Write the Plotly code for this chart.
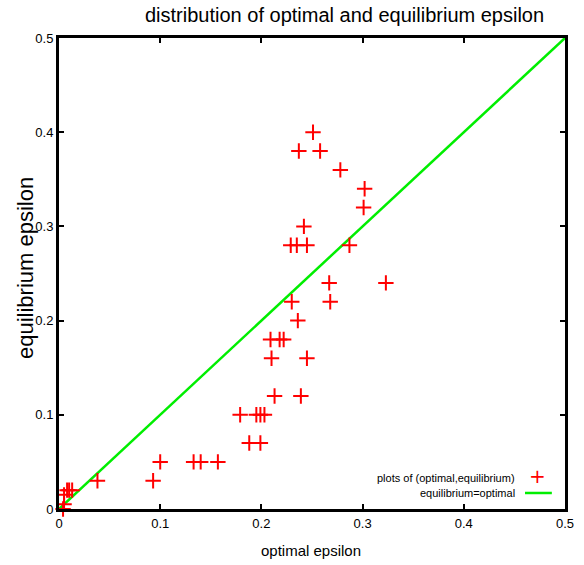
import plotly.graph_objects as go

optimal = [0.004, 0.005, 0.005, 0.008, 0.010, 0.013, 0.038, 0.093, 0.100,
           0.133, 0.140, 0.157, 0.179, 0.195, 0.199, 0.203, 0.188, 0.199,
           0.213, 0.239, 0.210, 0.245, 0.209, 0.218, 0.222, 0.236, 0.230,
           0.268, 0.267, 0.323, 0.229, 0.235, 0.245, 0.287, 0.242, 0.301,
           0.302, 0.278, 0.237, 0.258, 0.251]
equilibrium = [0.000, 0.005, 0.015, 0.020, 0.020, 0.020, 0.030, 0.030, 0.050,
               0.050, 0.050, 0.050, 0.100, 0.100, 0.100, 0.100, 0.070, 0.070,
               0.120, 0.120, 0.160, 0.160, 0.180, 0.180, 0.180, 0.200, 0.220,
               0.220, 0.240, 0.240, 0.280, 0.280, 0.280, 0.280, 0.300, 0.320,
               0.340, 0.360, 0.380, 0.380, 0.400]
line_x = [0.0, 0.5]
line_y = [0.0, 0.5]
tick_vals = [0, 0.1, 0.2, 0.3, 0.4, 0.5]
tick_text = ["0", "0.1", "0.2", "0.3", "0.4", "0.5"]

FONT = "Liberation Sans Narrow, Arial Narrow, Liberation Sans, Arial, sans-serif"

fig = go.Figure()
fig.add_trace(go.Scatter(
    x=line_x, y=line_y, mode="lines", name="equilibrium=optimal",
    line=dict(color="#00ee00", width=2.5), showlegend=False))
fig.add_trace(go.Scatter(
    x=optimal, y=equilibrium, mode="markers",
    name="plots of (optimal,equilibrium)",
    marker=dict(symbol="cross-thin", size=11,
                line=dict(color="#ff0000", width=2), color="#ff0000"),
    showlegend=False, cliponaxis=False))

axis_common = dict(
    range=[0, 0.5], tickvals=tick_vals, ticktext=tick_text, automargin=False,
    showgrid=False, zeroline=False, showline=True, linecolor="black",
    linewidth=3, mirror="ticks", ticks="inside", ticklen=5, tickwidth=2,
    tickcolor="black", tickfont=dict(family=FONT, size=13, color="black"))

fig.update_layout(
    width=584, height=565,
    margin=dict(l=59, r=19, t=38, b=56),
    paper_bgcolor="white", plot_bgcolor="white",
    font=dict(family=FONT, color="black"),
    xaxis=dict(**axis_common),
    yaxis=dict(**axis_common),
    annotations=[
        dict(text="distribution of optimal and equilibrium epsilon",
             xref="paper", yref="paper", x=(344 - 59) / 506, y=1.0, yshift=23,
             showarrow=False, xanchor="center", yanchor="middle",
             font=dict(family=FONT, size=20, color="black")),
        dict(text="optimal epsilon",
             xref="paper", yref="paper", x=(311 - 59) / 506, y=0.0, yshift=-41,
             showarrow=False, xanchor="center", yanchor="middle",
             font=dict(family=FONT, size=15, color="black")),
        dict(text="equilibrium epsilon", textangle=-90,
             xref="paper", yref="paper", x=0.0, xshift=-34, y=(509 - 268) / 471,
             showarrow=False, xanchor="center", yanchor="middle",
             font=dict(family=FONT, size=22, color="black")),
        dict(text="plots of (optimal,equilibrium)", xref="paper", yref="paper",
             x=0.905, y=0.066, xanchor="right", yanchor="middle",
             showarrow=False, font=dict(family=FONT, size=11, color="black")),
        dict(text="equilibrium=optimal", xref="paper", yref="paper",
             x=0.905, y=0.034, xanchor="right", yanchor="middle",
             showarrow=False, font=dict(family=FONT, size=11, color="black")),
        dict(text="+", xref="paper", yref="paper",
             x=0.945, y=0.07, xanchor="center", yanchor="middle",
             showarrow=False, font=dict(family="DejaVu Sans", size=20, color="#ff0000")),
    ],
    shapes=[
        dict(type="line", xref="paper", yref="paper",
             x0=0.921, x1=0.974, y0=0.034, y1=0.034,
             line=dict(color="#00ee00", width=2.5)),
    ],
)

fig.write_html("out.html", config={"displayModeBar": False},
               post_script="document.body.style.margin='0';document.body.style.overflow='hidden';")
